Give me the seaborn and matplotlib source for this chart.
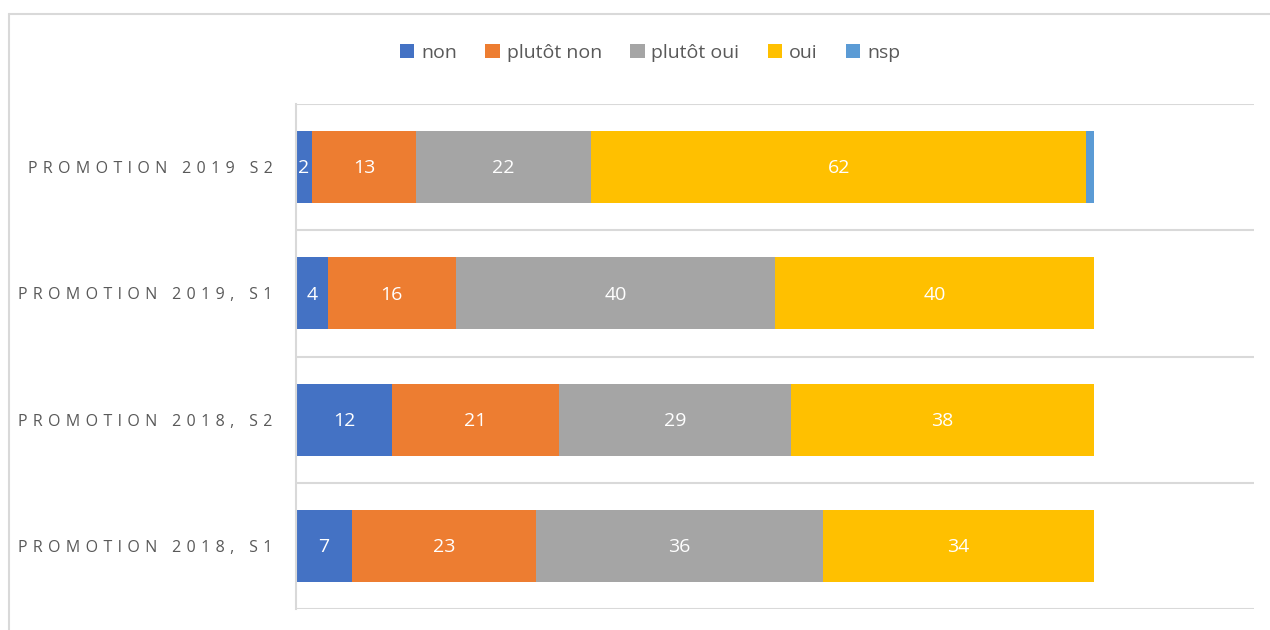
import matplotlib
matplotlib.use("Agg")
import matplotlib.pyplot as plt
from matplotlib.patches import Patch
from matplotlib.lines import Line2D
import seaborn as sns
import numpy as np

categories = ["PROMOTION 2019 S2", "PROMOTION 2019, S1", "PROMOTION 2018, S2", "PROMOTION 2018, S1"]
series_names = ["non", "plutôt non", "plutôt oui", "oui", "nsp"]
non = [2, 4, 12, 7]
plutot_non = [13, 16, 21, 23]
plutot_oui = [22, 40, 29, 36]
oui = [62, 40, 38, 34]
nsp = [1, 0, 0, 0]
colors = ["#4472C4", "#ED7D31", "#A5A5A5", "#FFC000", "#5B9BD5"]

sns.set_theme(style="white")
plt.rcParams["font.family"] = ["Open Sans", "DejaVu Sans"]

values = np.array([non, plutot_non, plutot_oui, oui, nsp], dtype=float)
cum = np.cumsum(values, axis=0)

fig = plt.figure(figsize=(12.7, 6.3), dpi=100)
ax = fig.add_axes([296 / 1270, 21 / 630, 958 / 1270, 505 / 630])

# stacked bars: draw cumulative totals from the outermost segment inwards
for i in range(len(series_names) - 1, -1, -1):
    sns.barplot(x=cum[i], y=categories, orient="h", color=colors[i],
                saturation=1, width=0.57, ax=ax, linewidth=0)

# segment value labels
for i in range(len(series_names) - 1):
    for j, cat in enumerate(categories):
        v = values[i, j]
        if v > 0:
            ax.text(cum[i, j] - v / 2, j + 0.01, f"{int(v)}", ha="center", va="center",
                    color="white", fontsize=14)

ax.set_xlim(0, 120)
ax.set_ylim(3.5, -0.5)
ax.set_xticks([])
ax.set_xlabel("")
ax.set_ylabel("")
ax.set_yticks(range(len(categories)))
# letter-spaced category labels
ax.set_yticklabels(["\u2004".join(c) for c in categories], fontsize=11.5, color="#595959")
ax.tick_params(axis="y", length=0, pad=17)
ax.set_yticks(np.arange(-0.5, 4, 1), minor=True)
ax.tick_params(axis="y", which="minor", length=0)
ax.grid(True, axis="y", which="minor", color="#D9D9D9", linewidth=1.5)
ax.grid(False, axis="y", which="major")
ax.set_axisbelow(True)
for s in ["top", "right", "bottom"]:
    ax.spines[s].set_visible(False)
ax.spines["left"].set_color("#D9D9D9")
ax.spines["left"].set_linewidth(1.5)

handles = [Patch(facecolor=c, edgecolor="none") for c in colors]
fig.legend(handles, series_names, loc="center", bbox_to_anchor=(650 / 1270, 1 - 53 / 630),
           ncol=5, frameon=False, fontsize=14, handlelength=0.75, handleheight=0.75,
           handletextpad=0.35, columnspacing=1.45, labelcolor="#595959")

# chart-area frame
fig.add_artist(Line2D([9 / 1270, 9 / 1270], [0, 1 - 14 / 630], color="#D9D9D9", lw=1.5))
fig.add_artist(Line2D([9 / 1270, 1], [1 - 14 / 630, 1 - 14 / 630], color="#D9D9D9", lw=1.5))

fig.savefig("out.png", dpi=100, facecolor="white")
